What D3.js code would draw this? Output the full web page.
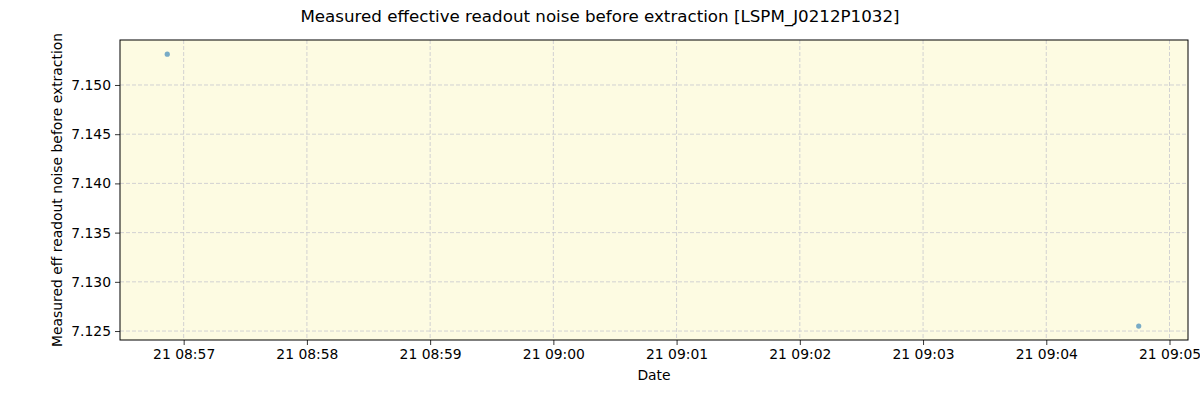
<!DOCTYPE html>
<html>
<head>
<meta charset="utf-8">
<script src="https://cdn.jsdelivr.net/npm/d3@7"></script>
<style>
  body { margin: 0; background: #fff; }
  svg text { font-family: "DejaVu Sans", sans-serif; fill: #000; }
</style>
</head>
<body>
<div id="chart"></div>
<script>
// data
var times = ["2021-01-21T08:56:52.7", "2021-01-21T09:04:45.4"];
var noise = [7.15313, 7.12550];
var yTicks = [7.125, 7.130, 7.135, 7.140, 7.145, 7.150];
var xTickTimes = ["08:57", "08:58", "08:59", "09:00", "09:01", "09:02", "09:03", "09:04", "09:05"];

var width = 1200, height = 400;
var margin = {left: 120, right: 12, top: 40, bottom: 60};
var parse = d3.timeParse("%Y-%m-%dT%H:%M:%S.%L");
var pts = times.map(function (t, i) { return {date: parse(t), v: noise[i]}; });

var svg = d3.select("#chart").append("svg")
  .attr("width", width)
  .attr("height", height);

var x = d3.scaleTime()
  .domain([parse("2021-01-21T08:56:29.1"), parse("2021-01-21T09:05:09.0")])
  .range([margin.left, width - margin.right]);

var y = d3.scaleLinear()
  .domain([7.12409, 7.15457])
  .range([height - margin.bottom, margin.top]);

svg.append("rect")
  .attr("x", margin.left)
  .attr("y", margin.top)
  .attr("width", width - margin.left - margin.right)
  .attr("height", height - margin.top - margin.bottom)
  .attr("fill", "#fdfbe2");

var xTicks = xTickTimes.map(function (s) { return parse("2021-01-21T" + s + ":00.0"); });

// grid
svg.append("g").selectAll("line")
  .data(xTicks)
  .enter().append("line")
  .attr("x1", function (d) { return x(d); })
  .attr("x2", function (d) { return x(d); })
  .attr("y1", margin.top)
  .attr("y2", height - margin.bottom)
  .attr("stroke", "#cdcdd0")
  .attr("stroke-width", 0.9)
  .attr("stroke-dasharray", "4,2");

svg.append("g").selectAll("line")
  .data(yTicks)
  .enter().append("line")
  .attr("x1", margin.left)
  .attr("x2", width - margin.right)
  .attr("y1", function (d) { return y(d); })
  .attr("y2", function (d) { return y(d); })
  .attr("stroke", "#cdcdd0")
  .attr("stroke-width", 0.9)
  .attr("stroke-dasharray", "4,2");

// points
svg.append("g").selectAll("circle")
  .data(pts)
  .enter().append("circle")
  .attr("cx", function (d) { return x(d.date); })
  .attr("cy", function (d) { return y(d.v); })
  .attr("r", 2.6)
  .attr("fill", "#1f77b4")
  .attr("fill-opacity", 0.6);

// axes
var xAxis = d3.axisBottom(x)
  .tickValues(xTicks)
  .tickFormat(d3.timeFormat("%d %H:%M"))
  .tickSize(5)
  .tickPadding(4);

var yAxis = d3.axisLeft(y)
  .tickValues(yTicks)
  .tickFormat(d3.format(".3f"))
  .tickSize(5)
  .tickPadding(4);

var gx = svg.append("g")
  .attr("transform", "translate(0," + (height - margin.bottom) + ")")
  .call(xAxis);
var gy = svg.append("g")
  .attr("transform", "translate(" + margin.left + ",0)")
  .call(yAxis);

[gx, gy].forEach(function (g) {
  g.select(".domain").remove();
  g.selectAll("text").attr("font-size", 13.9).attr("font-family", "DejaVu Sans, sans-serif");
  g.selectAll("line").attr("stroke", "#000").attr("stroke-width", 0.8);
});

// frame
svg.append("rect")
  .attr("x", margin.left)
  .attr("y", margin.top)
  .attr("width", width - margin.left - margin.right)
  .attr("height", height - margin.top - margin.bottom)
  .attr("fill", "none")
  .attr("stroke", "#000")
  .attr("stroke-width", 1);

// labels
svg.append("text")
  .attr("x", width / 2)
  .attr("y", 22)
  .attr("text-anchor", "middle")
  .attr("font-size", 16.7)
  .text("Measured effective readout noise before extraction [LSPM_J0212P1032]");

svg.append("text")
  .attr("x", (margin.left + width - margin.right) / 2)
  .attr("y", 380)
  .attr("text-anchor", "middle")
  .attr("font-size", 13.9)
  .text("Date");

svg.append("text")
  .attr("transform", "translate(62," + ((margin.top + height - margin.bottom) / 2) + ") rotate(-90)")
  .attr("text-anchor", "middle")
  .attr("font-size", 13.9)
  .text("Measured eff readout noise before extraction");
</script>
</body>
</html>
